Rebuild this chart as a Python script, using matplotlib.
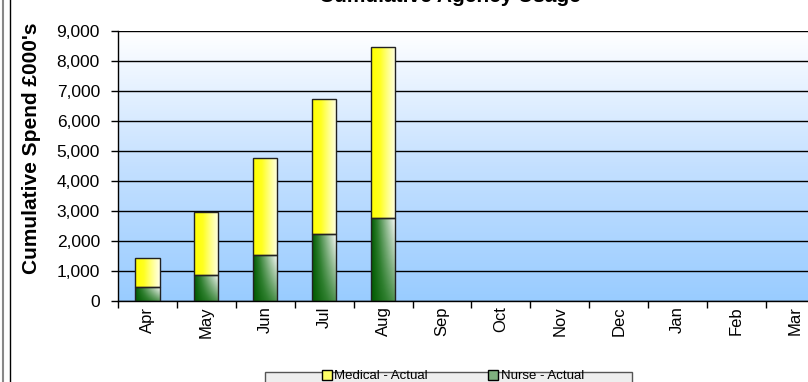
import numpy as np
import matplotlib
matplotlib.use('Agg')
import matplotlib.pyplot as plt
from matplotlib.patches import Rectangle
from matplotlib.lines import Line2D
from matplotlib.colors import LinearSegmentedColormap
from matplotlib.ticker import FuncFormatter, FixedLocator

plt.rcParams['font.family'] = ['Liberation Sans', 'DejaVu Sans']

# Data (cumulative spend, £000's)
months = ['Apr', 'May', 'Jun', 'Jul', 'Aug', 'Sep', 'Oct', 'Nov', 'Dec', 'Jan', 'Feb', 'Mar']
nurse_actual = [480, 870, 1520, 2220, 2780]
medical_actual = [950, 2080, 3240, 4500, 5670]

W, H = 808, 382
fig = plt.figure(figsize=(W / 100, H / 100), dpi=100)
ax = fig.add_axes([118 / W, 81 / H, 707 / W, 270 / H])

x = np.arange(len(nurse_actual))

# background gradient: white at top to light blue at bottom
bg = LinearSegmentedColormap.from_list('bg', ['#99ccff', '#c4e0ff', '#ffffff'])
grad = np.linspace(0, 1, 256).reshape(-1, 1)
ax.imshow(grad, cmap=bg, aspect='auto', extent=[0, 1, 0, 1],
          transform=ax.transAxes, origin='lower', zorder=0)

ax.yaxis.grid(True, color='black', linewidth=1.0, zorder=1)

yellow = LinearSegmentedColormap.from_list(
    'yel', [(0, '#ffff00'), (0.35, '#ffff20'), (0.7, '#ffff90'), (1, '#ffffe8')])
green = LinearSegmentedColormap.from_list(
    'grn', [(0, '#005a00'), (0.25, '#2f7f2f'), (0.6, '#8db88d'), (1, '#f2f6f2')])


def shade(bars, cmap, diag):
    nx, ny = 64, 64
    gx = np.linspace(0, 1, nx)[None, :]
    gy = np.linspace(0, 1, ny)[:, None]
    if diag:
        img = np.clip(gx * (1 - diag) + gx * gy * diag * 1.1, 0, 1)
    else:
        img = np.repeat(gx, ny, axis=0)
    for b in bars:
        x0, y0 = b.get_x(), b.get_y()
        w, h = b.get_width(), b.get_height()
        im = ax.imshow(img, cmap=cmap, aspect='auto', origin='lower',
                       extent=[x0, x0 + w, y0, y0 + h], zorder=2, vmin=0, vmax=1)
        im.set_clip_path(b)


bw = 0.41
b1 = ax.bar(x, nurse_actual, bw, color='none', edgecolor='#222222', linewidth=1.0, zorder=3)
b2 = ax.bar(x, medical_actual, bw, bottom=nurse_actual, color='none',
            edgecolor='#222222', linewidth=1.0, zorder=3)
shade(b1, green, 0.6)
shade(b2, yellow, 0)
ax.set_xlim(-0.5, len(months) - 0.5)
ax.set_ylim(0, 9000)

ax.set_yticks(np.arange(0, 9001, 1000))
ax.yaxis.set_major_formatter(FuncFormatter(lambda v, p: f'{int(v):,}'))
ax.set_xticks(np.arange(len(months)))
ax.set_xticklabels(months, rotation=90)
ax.xaxis.set_minor_locator(FixedLocator(np.arange(len(months) + 1) - 0.5))
ax.tick_params(axis='x', which='major', length=0, pad=4, labelsize=12)
ax.tick_params(axis='x', which='minor', length=5, direction='out', width=1)
ax.tick_params(axis='y', length=5, direction='out', width=1, labelsize=12.5, pad=8)

for s in ['top', 'right']:
    ax.spines[s].set_visible(False)
for s in ['left', 'bottom']:
    ax.spines[s].set_color('black')
    ax.spines[s].set_linewidth(1.0)

ax.set_ylabel("Cumulative Spend £000's", fontsize=15, fontweight='bold')
ax.yaxis.set_label_coords(-(118 - 41) / 707, (301 - 148) / 270)

fig.text(450 / W, 1 - 2 / H, 'Cumulative Agency Usage', ha='center', va='baseline',
         fontsize=15, fontweight='bold')

# outer border lines
fig.add_artist(Line2D([2.5 / W, 2.5 / W], [0, 1], color='#888888', linewidth=1.5))
fig.add_artist(Line2D([9.5 / W, 9.5 / W], [0, 1], color='black', linewidth=1.0))

# legend box
fig.add_artist(Rectangle((265 / W, -0.05), (632 - 265) / W, (0.05 + 10 / H),
                         transform=fig.transFigure, facecolor='#eeeeee',
                         edgecolor='#555555', linewidth=1.0))
handles = [Line2D([], [], marker='s', linestyle='none', markersize=6.5,
                  markerfacecolor='#ffff66', markeredgecolor='black', markeredgewidth=1),
           Line2D([], [], marker='s', linestyle='none', markersize=6.5,
                  markerfacecolor='#7fb07f', markeredgecolor='black', markeredgewidth=1)]
fig.legend(handles, ['Medical - Actual', 'Nurse - Actual'], ncol=2, frameon=False,
           loc='center', bbox_to_anchor=(452 / W, 1 - 376 / H), fontsize=9.5,
           handletextpad=0.05, columnspacing=4.5, handlelength=1.0,
           borderaxespad=0, borderpad=0)

fig.savefig('out.png', dpi=100)
